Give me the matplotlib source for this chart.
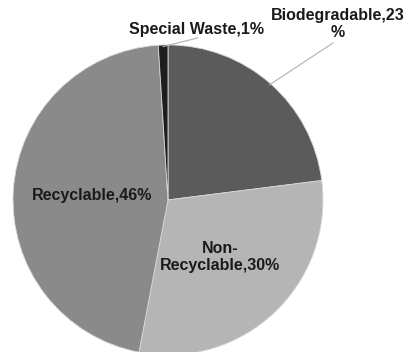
import numpy as np
import matplotlib.pyplot as plt

# waste composition
labels = ['Biodegradable', 'Non-\nRecyclable', 'Recyclable', 'Special Waste']
shares = [23, 30, 46, 1]
colors = ['#5b5b5b', '#b5b5b5', '#8a8a8a', '#1e1e1e']

plt.rcParams['font.family'] = ['Liberation Sans', 'DejaVu Sans']

fig = plt.figure(figsize=(4.13, 3.52), dpi=100)
ax = fig.add_axes([0, 0, 1, 1])

wedges, _ = ax.pie(shares, colors=colors, startangle=90, counterclock=False,
                   wedgeprops=dict(edgecolor='#d8d8d8', linewidth=0.6))

# inside labels: (x, y) in data units
inside = {1: (0.335, -0.37), 2: (-0.49, 0.026)}
# outside labels with leader lines
outside = {0: (1.097, 1.135), 3: (0.187, 1.10)}

txt = dict(fontsize=11.5, fontweight='bold', color='#1a1a1a', ha='center', va='center')
for i, w in enumerate(wedges):
    s = '%s,%d%%' % (labels[i], shares[i])
    if i in inside:
        ax.text(*inside[i], s, linespacing=1.15, **txt)
    else:
        ang = np.deg2rad((w.theta1 + w.theta2) / 2)
        xy = (np.cos(ang) * 0.99, np.sin(ang) * 0.99)
        if i == 0:
            s = 'Biodegradable,%d\n%%' % shares[i]
            tip = (1.065, 1.013)
        else:
            tip = (0.19, 1.045)
        ax.annotate(s, xy=xy, xytext=outside[i], textcoords='data',
                    linespacing=1.15, **txt)
        ax.plot([xy[0], tip[0]], [xy[1], tip[1]], color='#b0b0b0', lw=0.8)

ax.set_xlim(-1.084, 1.581)
ax.set_ylim(-0.981, 1.290)
ax.set_aspect('auto')
ax.axis('off')

fig.savefig('out.png', dpi=100, facecolor='white')
